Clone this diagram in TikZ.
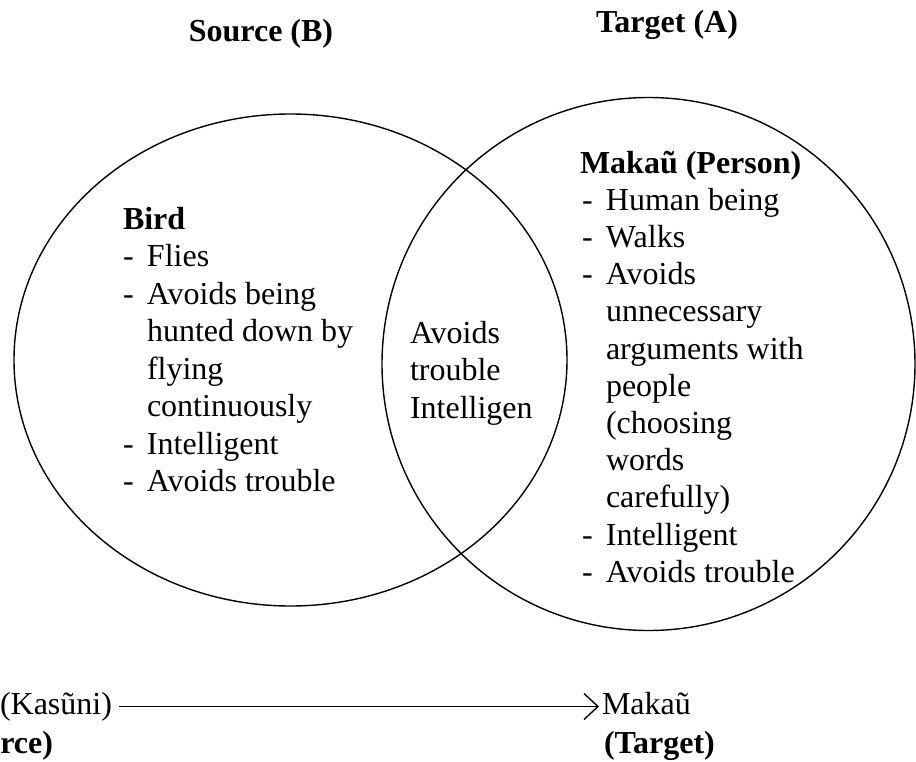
\documentclass[tikz,border=0pt]{standalone}
\usepackage{fontspec}
\setmainfont{Liberation Serif}
\usetikzlibrary{arrows.meta,shapes.geometric}

% list helpers: a dash with a hanging indent, and an indented continuation line
\newcommand\dashitem[1]{\makebox[24pt][l]{-}#1}
\newcommand\contline[1]{\hspace*{24pt}#1}

\begin{document}
\begin{tikzpicture}[x=1pt,y=-1pt,
  txt/.style={inner sep=0pt, outer sep=0pt, font=\fontsize{32}{37.5}\selectfont},
  ttl/.style={txt, font=\fontsize{32}{37.5}\selectfont\bfseries},
  ring/.style={draw, line width=1.4pt, inner sep=0pt},
  bottomlbl/.style={txt, text height=22pt, text depth=7pt},
  mapline/.style={line width=1.4pt, -{Straight Barb[length=14pt,width=26pt,line width=1.4pt]}}]
\useasboundingbox (0,0) rectangle (916,761);

% the two overlapping domains
\node[ring, ellipse, minimum width=553pt, minimum height=492pt] (srcring) at (290.5,360) {};
\node[ring, circle, minimum size=533pt] (tgtring) at (648.5,364) {};

% headings
\node[ttl, anchor=base] (srchead) at (261,41) {Source (B)};
\node[ttl, anchor=base] (tgthead) at (667,32) {Target (A)};

% source domain
\node[txt, anchor=base west] (birdlist) at (123,229) {%
  \begin{tabular}[t]{@{}l@{}}
  \textbf{Bird}\\
  \dashitem{Flies}\\
  \dashitem{Avoids being}\\
  \contline{hunted down by}\\
  \contline{flying}\\
  \contline{continuously}\\
  \dashitem{Intelligent}\\
  \dashitem{Avoids trouble}
  \end{tabular}};

% shared features
\node[txt, anchor=base west] (shared) at (410,343) {%
  \begin{tabular}[t]{@{}l@{}}
  Avoids\\
  trouble\\
  Intelligen
  \end{tabular}};

% target domain
\node[txt, anchor=base west, font=\fontsize{32}{37.2}\selectfont] (personlist) at (580,173) {%
  \begin{tabular}[t]{@{}l@{}}
  \textbf{Makaũ (Person)}\\
  \hspace*{2pt}\dashitem{Human being}\\
  \hspace*{2pt}\dashitem{Walks}\\
  \hspace*{2pt}\dashitem{Avoids}\\
  \hspace*{2pt}\contline{unnecessary}\\
  \hspace*{2pt}\contline{arguments with}\\
  \hspace*{2pt}\contline{people}\\
  \hspace*{2pt}\contline{(choosing}\\
  \hspace*{2pt}\contline{words}\\
  \hspace*{2pt}\contline{carefully)}\\
  \hspace*{2pt}\dashitem{Intelligent}\\
  \hspace*{2pt}\dashitem{Avoids trouble}
  \end{tabular}};

% mapping from source to target
\node[bottomlbl, anchor=base east] (kasuni) at (112,714) {(Kasũni)};
\node[bottomlbl, anchor=base west] (makau) at (602,714) {Makaũ};
\draw[mapline] ([xshift=7pt]kasuni.east) -- ([xshift=-3pt]makau.west);

\node[ttl, anchor=base east] (srcfoot) at (53,753) {rce)};
\node[ttl, anchor=base west] (tgtfoot) at (604,753) {(Target)};
\end{tikzpicture}
\end{document}
